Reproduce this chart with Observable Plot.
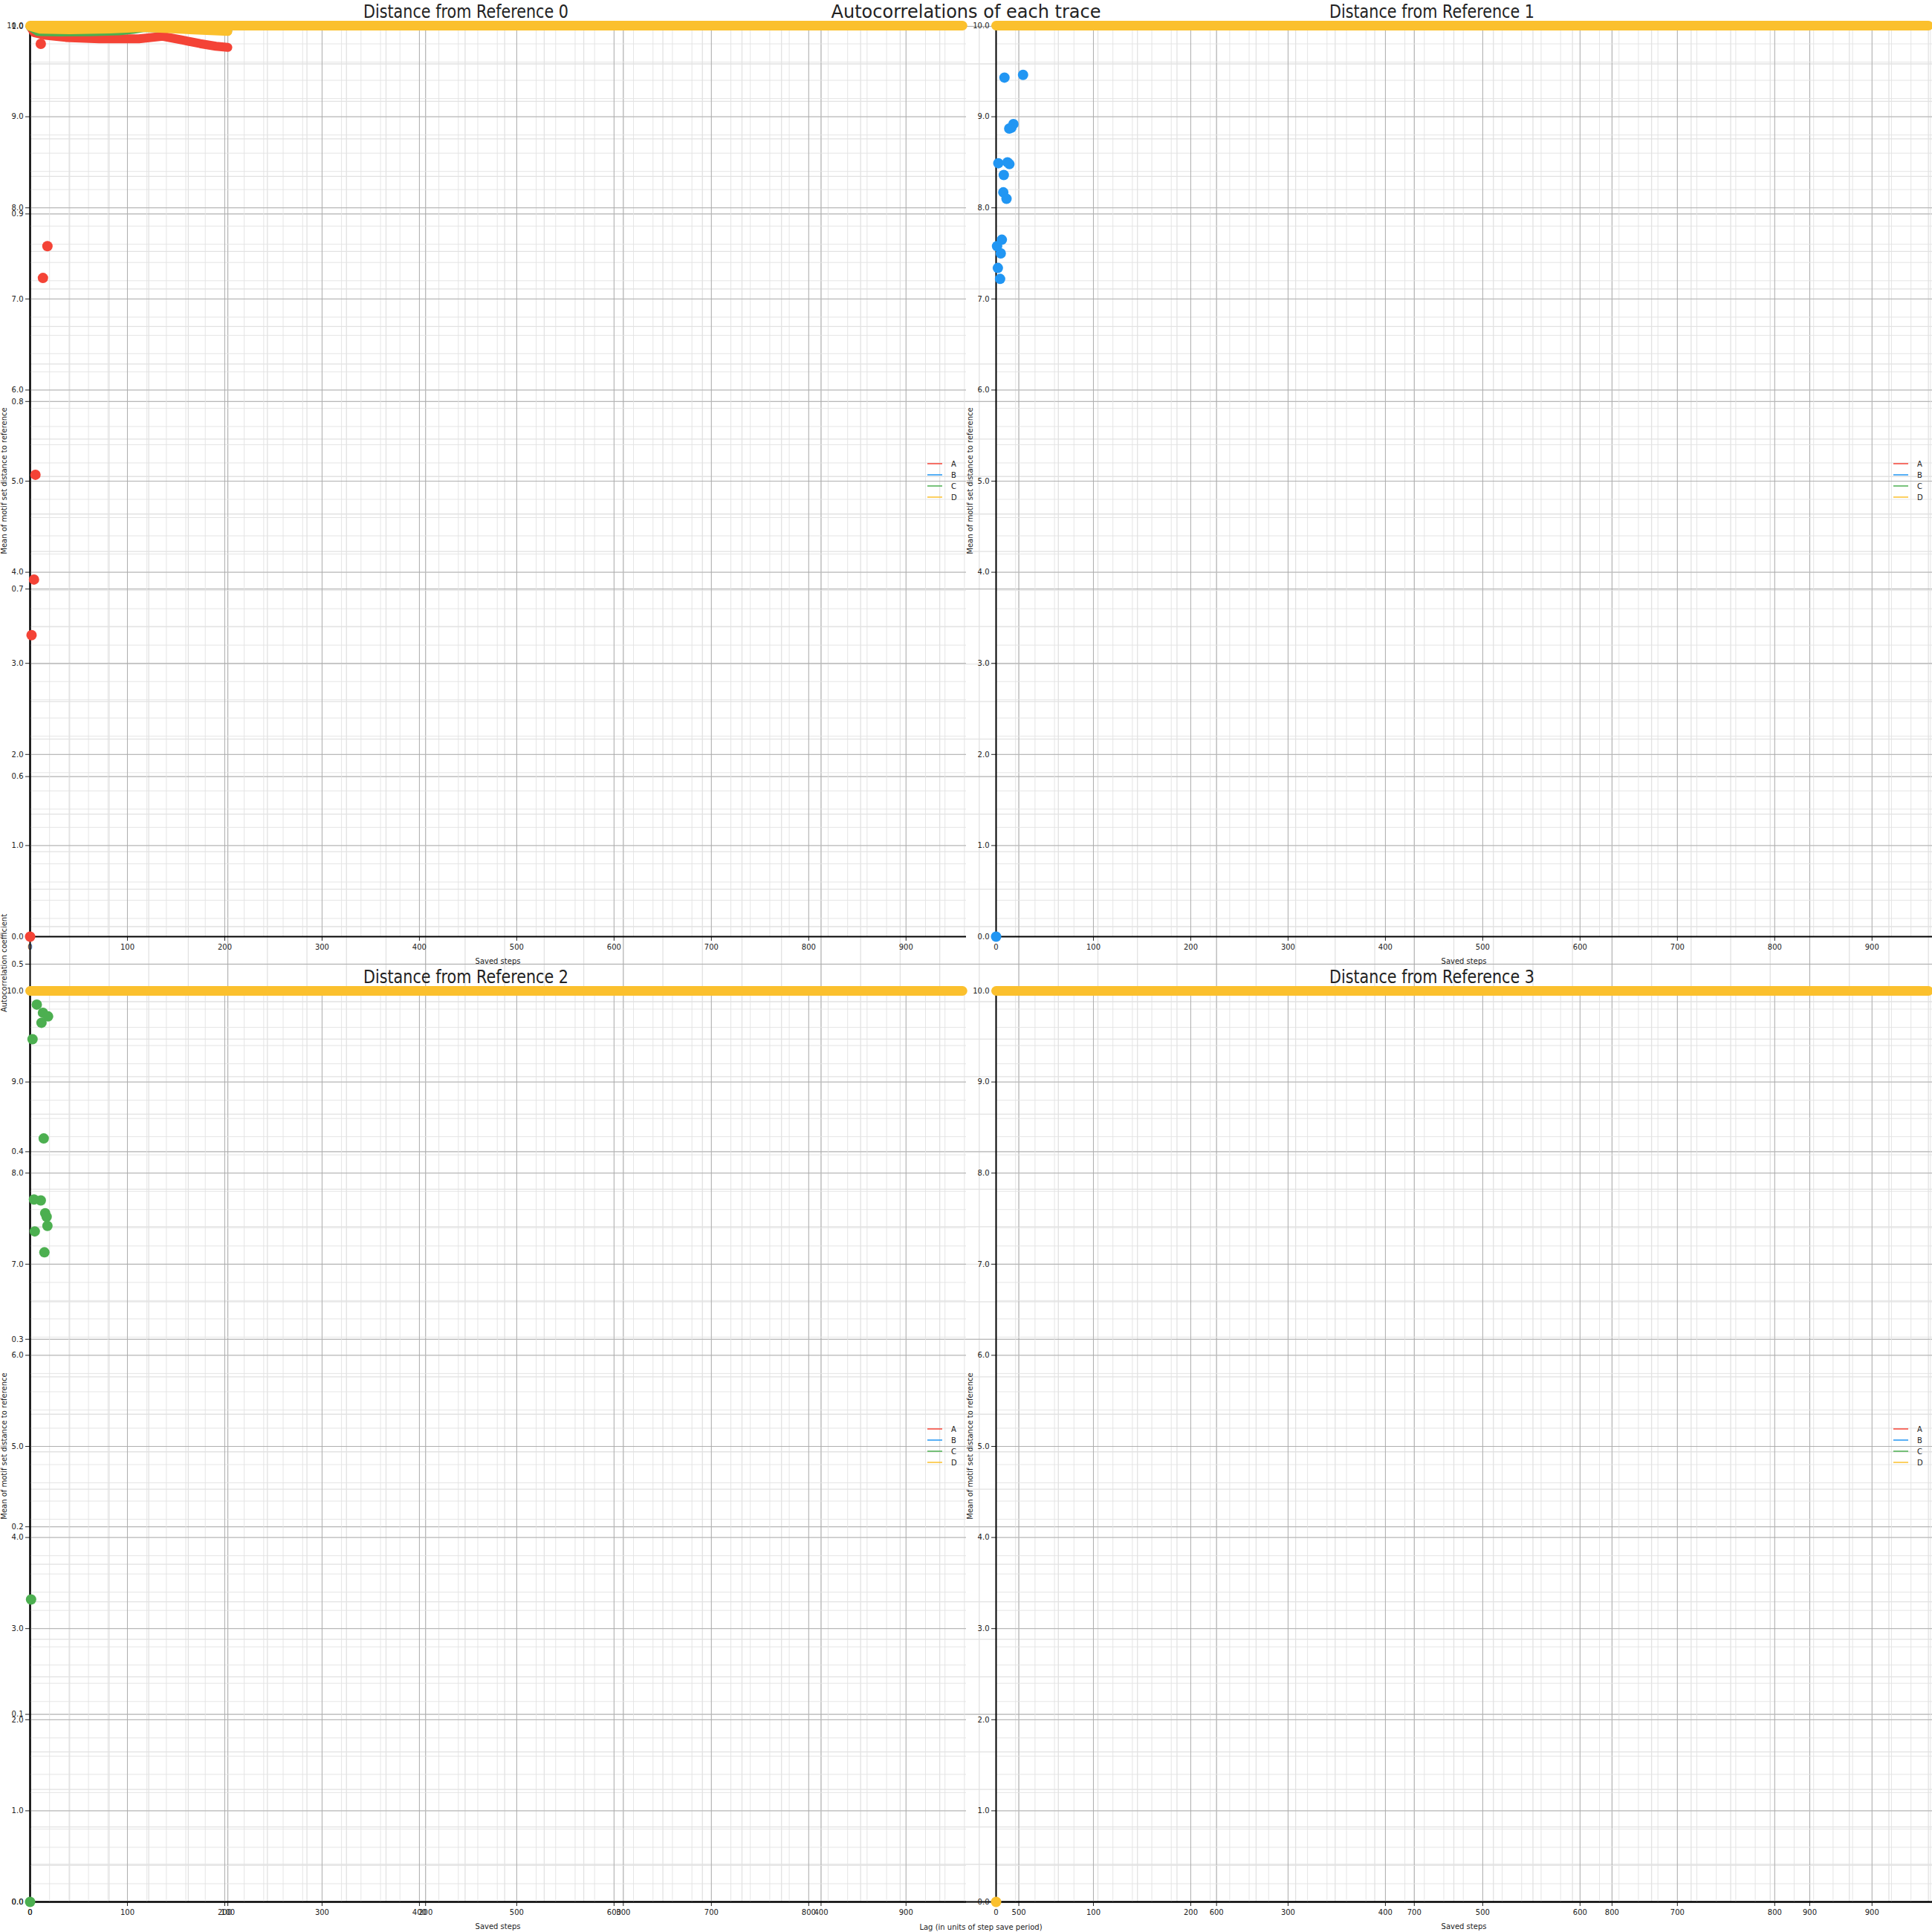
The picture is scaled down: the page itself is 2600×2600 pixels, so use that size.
<!DOCTYPE html>
<html><head><meta charset="utf-8">
<script src="https://cdn.jsdelivr.net/npm/d3@7"></script>
<script src="https://cdn.jsdelivr.net/npm/@observablehq/plot@0.6"></script>
<style>
body{margin:0;background:#fff;}
#chart{position:relative;width:2600px;height:2600px;font-family:"DejaVu Sans",sans-serif;}
#chart svg{position:absolute;overflow:visible;max-width:none;}
</style></head><body><div id="chart"></div>
<script>
// ---- categories / ticks ----
const series = ["A","B","C","D"];
const colors = ["#f44336","#2196f3","#4caf50","#fbc02d"];
const stepTicks = [0,100,200,300,400,500,600,700,800,900];
const distTicks = [0,1,2,3,4,5,6,7,8,9,10];
const lagTicks = [0,100,200,300,400,500,600,700,800,900];
const coefTicks = [0.0,0.1,0.2,0.3,0.4,0.5,0.6,0.7,0.8,0.9,1.0];
const refTitles = ["Distance from Reference 0","Distance from Reference 1","Distance from Reference 2","Distance from Reference 3"];
const acTitle = "Autocorrelations of each trace";
const acXLabel = "Lag (in units of step save period)";
const acYLabel = "Autocorrelation coefficient";
const refXLabel = "Saved steps";
const refYLabel = "Mean of motif set distance to reference";

// ---- autocorrelation series (lag, coefficient) ----
const acLagA = [0, 2, 8, 18, 35, 55, 67, 77, 86, 94, 100];
const acA    = [1.0, 0.9967, 0.9952, 0.9941, 0.9934, 0.9934, 0.9947, 0.9927, 0.9908, 0.9894, 0.9888];
const acLagB = [0, 5, 20, 40, 57, 70, 85, 100];
const acB    = [1.0, 0.9988, 0.9987, 0.9989, 0.9995, 0.9991, 0.9985, 0.9979];
const acLagC = [0, 4, 15, 30, 45, 52, 57, 70, 85, 100];
const acC    = [1.0, 0.9972, 0.9970, 0.9971, 0.9976, 0.9984, 0.9993, 0.9993, 0.9992, 0.9990];
const acLagD = [0, 5, 20, 40, 57, 70, 85, 100];
const acD    = [1.0, 0.9985, 0.9982, 0.9986, 0.9994, 0.9988, 0.9980, 0.9973];

// ---- distance-from-reference scatter (saved step, distance) ----
const ref0Steps = [0, 1.5, 4, 5.5, 11, 13.2, 17.8];
const ref0Dist  = [0.0, 3.31, 3.92, 5.07, 9.80, 7.23, 7.58];
const ref1Steps = [0, 8.6, 27.7, 17.8, 15.8, 13.5, 2.3, 11.7, 13.7, 7.9, 7.4, 10.7, 5.9, 1.0, 4.8, 1.8, 4.1];
const ref1Dist  = [0.0, 9.43, 9.46, 8.92, 8.88, 8.87, 8.49, 8.50, 8.48, 8.36, 8.17, 8.10, 7.65, 7.58, 7.50, 7.34, 7.22];
const ref2Steps = [0, 1, 2.5, 6.9, 11.7, 13.2, 18.5, 14, 4, 11, 15.5, 17, 17.8, 4.8, 14.7];
const ref2Dist  = [0.0, 3.32, 9.47, 9.85, 9.65, 9.76, 9.72, 8.38, 7.71, 7.70, 7.56, 7.52, 7.42, 7.36, 7.13];
const ref3Steps = [0];
const ref3Dist  = [0.0];
// trace D sits at the maximum distance over every saved step
const dBandSteps = [0, 958];
const dBandDist  = [10, 10];

// ---- build ----
const acLags = [acLagA, acLagB, acLagC, acLagD];
const acVals = [acA, acB, acC, acD];
const refSteps = [ref0Steps, ref1Steps, ref2Steps, ref3Steps];
const refDist = [ref0Dist, ref1Dist, ref2Dist, ref3Dist];
const mk = (xs, ys) => xs.map((x, i) => ({x, y: ys[i]}));

const lagMinor = d3.range(0, 962, 20);
const coefMinor = d3.range(0, 1.0001, 0.02);
const stepMinor = d3.range(0, 962, 20);
const distMinor = d3.range(0, 10.001, 0.2);

const chart = document.getElementById("chart");
function place(svg, left, top) { svg.style.left = left + "px"; svg.style.top = top + "px"; chart.appendChild(svg); }
const baseStyle = {background: "transparent", overflow: "visible", fontFamily: '"DejaVu Sans", sans-serif', fontSize: "10px", color: "#222", maxWidth: "none"};
const MINOR = "#e2e2e2", MAJOR = "#a8a8a8";

function acPlot(layer) {
  const g = layer === "grid";
  const marks = [];
  if (g) {
    marks.push(
      Plot.ruleX(lagMinor, {stroke: MINOR, strokeWidth: 1.3}),
      Plot.ruleY(coefMinor, {stroke: MINOR, strokeWidth: 1.3}),
      Plot.ruleX(lagTicks, {stroke: MAJOR, strokeWidth: 0.9}),
      Plot.ruleY(coefTicks, {stroke: MAJOR, strokeWidth: 0.9}),
      Plot.ruleX([0], {stroke: "#000", strokeWidth: 2}),
      Plot.ruleY([0], {stroke: "#000", strokeWidth: 2})
    );
  } else {
    series.forEach((s, i) => marks.push(Plot.line(mk(acLags[i], acVals[i]), {x: "x", y: "y", stroke: colors[i], strokeWidth: 12, strokeLinecap: "round", strokeLinejoin: "round"})));
  }
  return Plot.plot({
    width: 2600, height: 2600, marginLeft: 40, marginRight: 0, marginTop: 35, marginBottom: 41,
    x: {domain: [0, 962], axis: g ? "bottom" : null, ticks: lagTicks, tickFormat: d => String(d), tickSize: 6, tickPadding: 4, label: null},
    y: {domain: [0, 1], axis: g ? "left" : null, ticks: coefTicks, tickFormat: d3.format(".1f"), tickSize: 6, tickPadding: 3, label: null},
    style: baseStyle, marks
  });
}

function refPlot(layer, k) {
  const g = layer === "grid";
  const marks = [];
  if (g) {
    marks.push(
      Plot.ruleX(stepMinor, {stroke: MINOR, strokeWidth: 0.9}),
      Plot.ruleY(distMinor, {stroke: MINOR, strokeWidth: 0.9}),
      Plot.ruleX(stepTicks, {stroke: MAJOR, strokeWidth: 0.9}),
      Plot.ruleY(distTicks, {stroke: MAJOR, strokeWidth: 0.9}),
      Plot.ruleX([0], {stroke: "#000", strokeWidth: 2}),
      Plot.ruleY([0], {stroke: "#000", strokeWidth: 2})
    );
  } else {
    marks.push(
      Plot.dot(mk(refSteps[k], refDist[k]), {x: "x", y: "y", r: 7, fill: colors[k], stroke: "none"}),
      Plot.line(mk(dBandSteps, dBandDist), {x: "x", y: "y", stroke: colors[3], strokeWidth: 13, strokeLinecap: "round"})
    );
  }
  return Plot.plot({
    width: 1300, height: 1300, marginLeft: 40, marginRight: 0, marginTop: 34, marginBottom: 40,
    x: {domain: [0, 962], axis: g ? "bottom" : null, ticks: stepTicks, tickFormat: d => String(d), tickSize: 6, tickPadding: 4, label: null},
    y: {domain: [0, 10], axis: g ? "left" : null, ticks: distTicks, tickFormat: d3.format(".1f"), tickSize: 6, tickPadding: 3, label: null},
    style: baseStyle, marks
  });
}

const pos = [[0, 0], [1300, 0], [0, 1299], [1300, 1299]];
place(acPlot("grid"), 0, 0);
pos.forEach((p, k) => place(refPlot("grid", k), p[0], p[1]));
place(acPlot("data"), 0, 0);
pos.forEach((p, k) => place(refPlot("data", k), p[0], p[1]));

// ---- annotations: titles, axis labels, legends ----
const ann = d3.select(chart).append("svg").attr("width", 2600).attr("height", 2600)
  .style("left", "0px").style("top", "0px").style("pointer-events", "none")
  .style("font-family", '"DejaVu Sans", sans-serif').style("fill", "#222");
ann.append("text").attr("x", 1300).attr("y", 24).attr("text-anchor", "middle").attr("font-size", 24).text(acTitle);
ann.append("text").attr("x", 1320).attr("y", 2597).attr("text-anchor", "middle").attr("font-size", 10).text(acXLabel);
ann.append("text").attr("transform", "translate(9,1296) rotate(-90)").attr("text-anchor", "middle").attr("font-size", 10).text(acYLabel);
pos.forEach((p, k) => {
  const [ox, oy] = p;
  ann.append("text").attr("x", ox + 627).attr("y", oy + 24).attr("text-anchor", "middle").attr("font-size", 24)
    .attr("textLength", 276).attr("lengthAdjust", "spacingAndGlyphs").text(refTitles[k]);
  ann.append("text").attr("x", ox + 670).attr("y", oy + 1297).attr("text-anchor", "middle").attr("font-size", 10).text(refXLabel);
  ann.append("text").attr("transform", `translate(${ox + 9},${oy + 647}) rotate(-90)`).attr("text-anchor", "middle").attr("font-size", 10).text(refYLabel);
  series.forEach((s, i) => {
    const y = oy + 624 + 15 * i;
    ann.append("line").attr("x1", ox + 1248).attr("x2", ox + 1268).attr("y1", y).attr("y2", y).attr("stroke", colors[i]).attr("stroke-width", 1.5);
    ann.append("text").attr("x", ox + 1280).attr("y", y).attr("dy", "0.35em").attr("font-size", 10).text(s);
  });
});
</script></body></html>
